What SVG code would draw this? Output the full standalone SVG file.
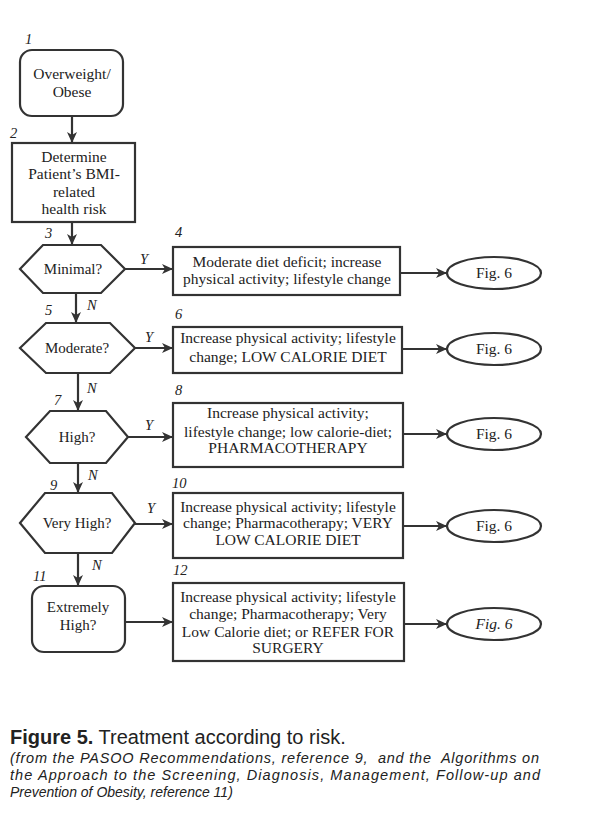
<svg xmlns="http://www.w3.org/2000/svg" width="598" height="827" viewBox="0 0 598 827">
<defs>
<marker id="ah" markerUnits="userSpaceOnUse" markerWidth="11" markerHeight="10" refX="11" refY="5" orient="auto">
<path d="M0,0 L11,5 L0,10 L3,5 z" fill="#333"/>
</marker>
<style>
.s{fill:#fff;stroke:#333;stroke-width:2.2}
.t{font-family:"Liberation Serif","Times New Roman",serif;font-size:15.5px;fill:#222;text-anchor:middle}
.h{font-size:15px}
.n{font-family:"Liberation Serif","Times New Roman",serif;font-size:14.5px;font-style:italic;fill:#222}
.c{stroke:#333;stroke-width:2.2;fill:none;marker-end:url(#ah)}
.cap{font-family:"Liberation Sans",Arial,sans-serif;fill:#222}
</style>
</defs>
<rect width="598" height="827" fill="#fff"/>

<g id="connectors">
<line class="c" x1="72" y1="117" x2="72" y2="143"/>
<line class="c" x1="72" y1="222" x2="72" y2="245"/>
<line class="c" x1="125" y1="269" x2="173" y2="269"/>
<line class="c" x1="400" y1="273" x2="447" y2="273"/>
<line class="c" x1="76" y1="293" x2="76" y2="323"/>
<line class="c" x1="135" y1="348" x2="173" y2="348"/>
<line class="c" x1="402" y1="349" x2="447" y2="349"/>
<line class="c" x1="78" y1="373" x2="78" y2="411"/>
<line class="c" x1="128" y1="437" x2="173" y2="437"/>
<line class="c" x1="403" y1="434" x2="447" y2="434"/>
<line class="c" x1="78" y1="463" x2="78" y2="493"/>
<line class="c" x1="135" y1="524" x2="173" y2="524"/>
<line class="c" x1="403" y1="526" x2="447" y2="526"/>
<line class="c" x1="78" y1="553" x2="78" y2="586"/>
<line class="c" x1="125" y1="622" x2="173" y2="622"/>
<line class="c" x1="404" y1="624" x2="447" y2="624"/>
<text class="n" x="140" y="264">Y</text>
<text class="n" x="145" y="342">Y</text>
<text class="n" x="145" y="430">Y</text>
<text class="n" x="147" y="513">Y</text>
<text class="n" x="87" y="310">N</text>
<text class="n" x="87" y="393">N</text>
<text class="n" x="88" y="480">N</text>
<text class="n" x="92" y="570">N</text>
</g>

<g id="node1">
<rect class="s" x="20" y="50" width="103" height="66" rx="12"/>
<text class="n" x="25" y="44">1</text>
<text class="t" x="72" y="79">Overweight/</text>
<text class="t" x="72" y="97">Obese</text>
</g>

<g id="node2">
<rect class="s" x="12" y="143" width="123" height="79"/>
<text class="n" x="10" y="138">2</text>
<text class="t" x="74" y="162">Determine</text>
<text class="t" x="74" y="179">Patient’s BMI-</text>
<text class="t" x="74" y="197">related</text>
<text class="t" x="74" y="214">health risk</text>
</g>

<g id="node3">
<polygon class="s" points="20,269 43,245 101,245 125,269 101,293 43,293"/>
<text class="n" x="45" y="238">3</text>
<text class="t h" x="73" y="274">Minimal?</text>
</g>

<g id="node4">
<rect class="s" x="173" y="247" width="227" height="48"/>
<text class="n" x="175" y="237">4</text>
<text class="t" x="287" y="267">Moderate diet deficit; increase</text>
<text class="t" x="287" y="284">physical activity; lifestyle change</text>
</g>

<g id="fig4">
<ellipse class="s" cx="494" cy="273" rx="47" ry="16"/>
<text class="t" x="494" y="278">Fig. 6</text>
</g>

<g id="node5">
<polygon class="s" points="20,348 46,323 110,323 135,348 110,373 46,373"/>
<text class="n" x="45" y="315">5</text>
<text class="t h" x="77" y="353">Moderate?</text>
</g>

<g id="node6">
<rect class="s" x="173" y="327" width="229" height="46"/>
<text class="n" x="175" y="319">6</text>
<text class="t" x="288" y="343">Increase physical activity; lifestyle</text>
<text class="t" x="288" y="362">change; LOW CALORIE DIET</text>
</g>

<g id="fig6">
<ellipse class="s" cx="494" cy="349" rx="47" ry="16"/>
<text class="t" x="494" y="354">Fig. 6</text>
</g>

<g id="node7">
<polygon class="s" points="26,437 50,411 106,411 128,437 106,463 50,463"/>
<text class="n" x="54" y="405">7</text>
<text class="t h" x="77" y="442">High?</text>
</g>

<g id="node8">
<rect class="s" x="173" y="403" width="230" height="64"/>
<text class="n" x="175" y="395">8</text>
<text class="t" x="288" y="418">Increase physical activity;</text>
<text class="t" x="288" y="437">lifestyle change; low calorie-diet;</text>
<text class="t" x="288" y="453">PHARMACOTHERAPY</text>
</g>

<g id="fig8">
<ellipse class="s" cx="494" cy="434" rx="47" ry="16"/>
<text class="t" x="494" y="439">Fig. 6</text>
</g>

<g id="node9">
<polygon class="s" points="20,523 45,493 112,493 135,523 112,553 45,553"/>
<text class="n" x="50" y="490">9</text>
<text class="t h" x="77" y="528">Very High?</text>
</g>

<g id="node10">
<rect class="s" x="173" y="493" width="230" height="65"/>
<text class="n" x="172" y="488">10</text>
<text class="t" x="288" y="512">Increase physical activity; lifestyle</text>
<text class="t" x="288" y="528">change; Pharmacotherapy; VERY</text>
<text class="t" x="288" y="545">LOW CALORIE DIET</text>
</g>

<g id="fig10">
<ellipse class="s" cx="494" cy="526" rx="47" ry="16"/>
<text class="t" x="494" y="531">Fig. 6</text>
</g>

<g id="node11">
<rect class="s" x="32" y="586" width="93" height="66" rx="12"/>
<text class="n" x="33" y="581">11</text>
<text class="t h" x="78" y="612">Extremely</text>
<text class="t h" x="78" y="630">High?</text>
</g>

<g id="node12">
<rect class="s" x="173" y="583" width="231" height="78"/>
<text class="n" x="173" y="575">12</text>
<text class="t" x="288" y="602">Increase physical activity; lifestyle</text>
<text class="t" x="288" y="619">change; Pharmacotherapy; Very</text>
<text class="t" x="288" y="637">Low Calorie diet; or REFER FOR</text>
<text class="t" x="288" y="653">SURGERY</text>
</g>

<g id="fig12">
<ellipse class="s" cx="494" cy="624" rx="47" ry="16"/>
<text class="t" x="494" y="629" font-style="italic">Fig. 6</text>
</g>

<g id="caption">
<text class="cap" x="10" y="744" font-size="20"><tspan font-weight="bold">Figure 5.</tspan> Treatment according to risk.</text>
<text class="cap" x="10" y="763" font-size="14.5" font-style="italic" textLength="529" lengthAdjust="spacing" xml:space="preserve">(from the PASOO Recommendations, reference 9,  and the  Algorithms on</text>
<text class="cap" x="10" y="780" font-size="14.5" font-style="italic" textLength="530" lengthAdjust="spacing">the Approach to the Screening, Diagnosis, Management, Follow-up and</text>
<text class="cap" x="10" y="797" font-size="14" font-style="italic">Prevention of Obesity, reference 11)</text>
</g>
</svg>
